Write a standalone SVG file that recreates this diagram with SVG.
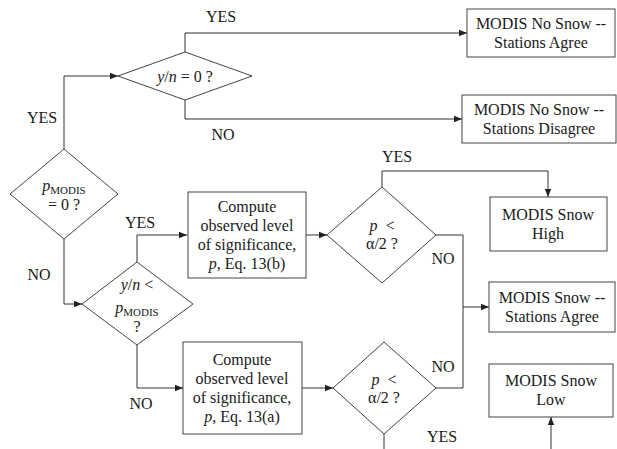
<svg xmlns="http://www.w3.org/2000/svg" width="617" height="449" viewBox="0 0 617 449" font-family="'Liberation Serif', 'Times New Roman', Times, 'DejaVu Serif', serif">
<defs>
<marker id="ah" viewBox="0 0 10 10" refX="10" refY="5" markerWidth="8" markerHeight="8" markerUnits="userSpaceOnUse" orient="auto">
<path d="M0,1 L10,5 L0,9 Z" fill="#222"/>
</marker>
<style>
text{font-family:'Liberation Serif','Times New Roman',Times,'DejaVu Serif',serif;font-size:16px;fill:#1a1a1a;text-anchor:middle}
.i{font-style:italic}
.sub{font-size:11px}
.shape{fill:#fff;stroke:#444;stroke-width:1}
.conn path{fill:none;stroke:#333;stroke-width:1}
.arr{marker-end:url(#ah)}
</style>
</defs>
<rect width="617" height="449" fill="#fff"/>
<g class="conn" id="connectors">
<path class="arr" d="M64,149 V76 H118"/>
<path class="arr" d="M185,52 V33 H467"/>
<path class="arr" d="M185,100 V119 H462"/>
<path class="arr" d="M64,239 V304 H82"/>
<path class="arr" d="M137,262 V235 H187"/>
<path class="arr" d="M137,345 V388 H183"/>
<path class="arr" d="M306,235 H327"/>
<path class="arr" d="M302,388 H333"/>
<path class="arr" d="M382,187 V171 H548 V197"/>
<path class="arr" d="M436,235 H463 V307 H489"/>
<path d="M436,388 H463 V307"/>
<path d="M384,434 V449"/>
<path class="arr" d="M551,449 V417"/>
</g>
<g id="labels">
<text x="221" y="22">YES</text>
<text x="42" y="123">YES</text>
<text x="223" y="140">NO</text>
<text x="140" y="228">YES</text>
<text x="39" y="280">NO</text>
<text x="141" y="409">NO</text>
<text x="397" y="162">YES</text>
<text x="443" y="264">NO</text>
<text x="443" y="372">NO</text>
<text x="442" y="442">YES</text>
</g>
<g id="d_pmodis">
<polygon class="shape" points="64,149 118,194 64,239 10,194"/>
<text x="64" y="191"><tspan class="i">p</tspan><tspan class="sub" dy="3">MODIS</tspan></text>
<text x="64" y="210">= 0 ?</text>
</g>
<g id="d_yn0">
<polygon class="shape" points="185,52 252,76 185,100 118,76"/>
<text x="185" y="82"><tspan class="i">y</tspan>/<tspan class="i">n</tspan> = 0 ?</text>
</g>
<g id="b_nosnow_agree">
<rect class="shape" x="467" y="9" width="148" height="48"/>
<text x="541" y="29">MODIS No Snow --</text>
<text x="541" y="48">Stations Agree</text>
</g>
<g id="b_nosnow_disagree">
<rect class="shape" x="462" y="95" width="154" height="48"/>
<text x="539" y="115">MODIS No Snow --</text>
<text x="539" y="134">Stations Disagree</text>
</g>
<g id="d_ynp">
<polygon class="shape" points="137,262 193,304 137,345 82,304"/>
<text x="137" y="290"><tspan class="i">y</tspan>/<tspan class="i">n</tspan> &lt;</text>
<text x="137" y="313"><tspan class="i">p</tspan><tspan class="sub" dy="3">MODIS</tspan></text>
<text x="137" y="332">?</text>
</g>
<g id="b_compute_b">
<rect class="shape" x="188" y="192" width="118" height="86"/>
<text x="247" y="212">Compute</text>
<text x="247" y="231">observed level</text>
<text x="247" y="250">of significance,</text>
<text x="247" y="269"><tspan class="i">p</tspan>, Eq. 13(b)</text>
</g>
<g id="b_compute_a">
<rect class="shape" x="183" y="342" width="119" height="92"/>
<text x="242" y="365">Compute</text>
<text x="242" y="384">observed level</text>
<text x="242" y="403">of significance,</text>
<text x="242" y="422"><tspan class="i">p</tspan>, Eq. 13(a)</text>
</g>
<g id="d_p_upper">
<polygon class="shape" points="382,187 436,235 382,283 327,235"/>
<text x="382" y="231"><tspan class="i">p</tspan>&#160;&#160;&lt;</text>
<text x="382" y="249">α/2 ?</text>
</g>
<g id="d_p_lower">
<polygon class="shape" points="384,342 436,388 384,434 333,388"/>
<text x="384" y="385"><tspan class="i">p</tspan>&#160;&#160;&lt;</text>
<text x="384" y="403">α/2 ?</text>
</g>
<g id="b_snow_high">
<rect class="shape" x="490" y="197" width="117" height="54"/>
<text x="548" y="220">MODIS Snow</text>
<text x="548" y="239">High</text>
</g>
<g id="b_snow_agree">
<rect class="shape" x="489" y="282" width="126" height="50"/>
<text x="552" y="303">MODIS Snow --</text>
<text x="552" y="322">Stations Agree</text>
</g>
<g id="b_snow_low">
<rect class="shape" x="489" y="364" width="124" height="53"/>
<text x="551" y="386">MODIS Snow</text>
<text x="551" y="405">Low</text>
</g>
</svg>
